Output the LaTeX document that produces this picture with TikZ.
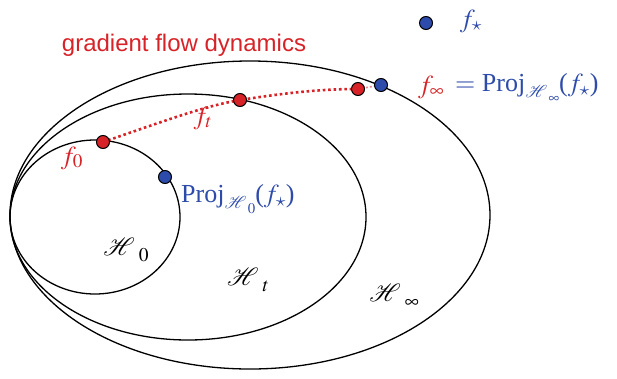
\documentclass[tikz,border=0pt]{standalone}
\usepackage{mathptmx}
\usepackage{mathrsfs}
\usepackage{fontspec}
\setmainfont{Liberation Serif}
\newfontfamily\arialf{Liberation Sans}
\definecolor{dred}{RGB}{215,35,40}
\definecolor{dblue}{RGB}{45,75,170}
% script H with a large, spaced index
\newcommand{\HH}[2]{$\mathscr{H}$\kern#2\raisebox{-0.24em}{\fontsize{0.78em}{0.9em}\selectfont$#1$}}
\newcommand{\PProj}[1]{Proj\raisebox{-0.25em}{\fontsize{19}{22}\selectfont\HH{#1}{1.5pt}}}
\tikzset{
  set/.style={draw=black, line width=1.3pt},
  rdot/.style={circle, draw=black, line width=1pt, fill=dred, minimum size=13pt, inner sep=0pt},
  bdot/.style={circle, draw=black, line width=1pt, fill=dblue, minimum size=13pt, inner sep=0pt},
  lab/.style={font=\fontsize{26}{30}\selectfont, inner sep=0pt},
  hlab/.style={font=\fontsize{25}{30}\selectfont, inner sep=0pt, text=black},
  flow/.style={draw=dred, line width=2.6pt, dash pattern=on 2.6pt off 2.8pt},
}
\begin{document}
\begin{tikzpicture}[x=1pt, y=-1pt]
\useasboundingbox (0,0) rectangle (617,378);
% sets
\draw[set] (95,217) ellipse [x radius=85, y radius=77];
\draw[set] (188,217) ellipse [x radius=178, y radius=123];
\draw[set] (250,215) ellipse [x radius=240, y radius=154];
% flow curve
\coordinate (c0) at (103,142);
\coordinate (ct) at (240,100);
\coordinate (ci) at (358,89);
\draw[flow] (c0) .. controls (170,119) and (205,106) .. (ct) .. controls (285,93) and (320,89) .. (ci);
\draw[draw=dred!55, line width=1.6pt, dash pattern=on 2pt off 2pt] (ci) -- (381,85);
% dots
\node[rdot] (f0) at (c0) {};
\node[rdot] (ft) at (ct) {};
\node[rdot] (finf) at (ci) {};
\node[bdot] (pinf) at (381,85) {};
\node[bdot] (p0) at (165,177) {};
\node[bdot] (fstar) at (426,23) {};
% labels
\node[font=\arialf\fontsize{24}{28}\selectfont, text=dred, inner sep=0pt] (title) at (184,45) {gradient flow dynamics};
\node[lab, text=dblue] (fstarlab) at (471,21) {$f_{\star}$};
\node[lab, text=dred] (f0lab) at (72,158) {$f_0$};
\node[lab, text=dred] (ftlab) at (203,118) {$f_t$};
\node[lab, text=dblue, anchor=west] (p0lab) at (181,199) {\PProj{0}($f_{\star}$)};
\node[lab, text=dred, anchor=west] (finflab) at (418,87) {$f_{\infty}$};
\node[lab, text=dblue, anchor=west] (pinflab) at (455,88) {$=$ \PProj{\infty}($f_{\star}$)};
\node[hlab] (h0) at (126,250) {\HH{0}{4pt}};
\node[hlab] (ht) at (248,280) {\HH{t}{4pt}};
\node[hlab] (hinf) at (394,296) {\HH{\infty}{4pt}};
\end{tikzpicture}
\end{document}
